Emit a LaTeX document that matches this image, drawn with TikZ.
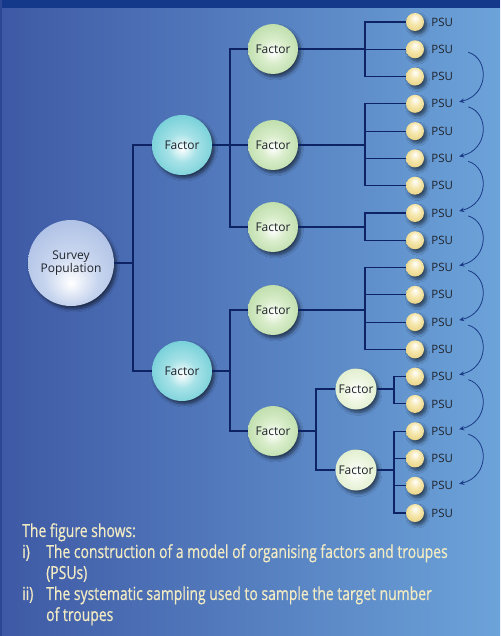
\documentclass[tikz,border=0pt]{standalone}
\usepackage{fontspec}
\setmainfont{Open Sans}
\newfontfamily\capfont[FakeStretch=0.775,FakeBold=0.6]{Open Sans}
\usetikzlibrary{positioning,shadows.blur,arrows.meta}

\definecolor{bgleft}{HTML}{3E59A5}
\definecolor{bgright}{HTML}{6CA3D9}
\definecolor{topband}{HTML}{15398A}
\definecolor{edgeband}{HTML}{2C4794}
\definecolor{linkblue}{HTML}{0D2363}
\definecolor{arrowblue}{HTML}{1B3A86}
\definecolor{nodetext}{HTML}{1F232B}
\definecolor{captext}{HTML}{F2EBC3}
\definecolor{surveyrim}{HTML}{8FA8DA}
\definecolor{surveymid}{HTML}{C6D4EE}
\definecolor{tealrim}{HTML}{2FB6C3}
\definecolor{tealmid}{HTML}{A6E2E7}
\definecolor{greenrim}{HTML}{98C87D}
\definecolor{greenmid}{HTML}{D9EDCB}
\definecolor{palerim}{HTML}{CAE2AC}
\definecolor{palemid}{HTML}{EEF6E2}
\definecolor{psurim}{HTML}{D9BB58}
\definecolor{psumid}{HTML}{F5E6AA}

%% ball shadings (inner circle offset, outer circle at origin)
\pgfdeclareradialshading{surveyshade}{\pgfpoint{0bp}{-12bp}}{%
  color(0bp)=(white); color(16bp)=(surveymid); color(50bp)=(surveyrim)}
\pgfdeclareradialshading{tealshade}{\pgfpoint{0bp}{-3bp}}{%
  color(0bp)=(white); color(12bp)=(tealmid); color(50bp)=(tealrim)}
\pgfdeclareradialshading{greenshade}{\pgfpoint{0bp}{-3bp}}{%
  color(0bp)=(white); color(12bp)=(greenmid); color(50bp)=(greenrim)}
\pgfdeclareradialshading{paleshade}{\pgfpoint{0bp}{-3bp}}{%
  color(0bp)=(white); color(14bp)=(palemid); color(50bp)=(palerim)}
\pgfdeclareradialshading{psushade}{\pgfpoint{0bp}{12bp}}{%
  color(0bp)=(white); color(16bp)=(psumid); color(50bp)=(psurim)}

\begin{document}
\begin{tikzpicture}[x=1pt, y=-1pt,
  link/.style={draw=linkblue, line width=1.1pt},
  ball/.style={circle, inner sep=0pt, align=center, text=nodetext,
    font=\fontsize{12}{13}\selectfont,
    blur shadow={shadow xshift=2.5pt, shadow yshift=-3pt, shadow opacity=55,
      shadow blur radius=3pt, shadow blur steps=6}},
  survey/.style={ball, minimum size=86pt, shading=surveyshade},
  topfactor/.style={ball, minimum size=60pt, shading=tealshade},
  midfactor/.style={ball, minimum size=50pt, shading=greenshade},
  subfactor/.style={ball, minimum size=41pt, shading=paleshade},
  psu/.style={ball, minimum size=18pt, shading=psushade},
  psulabel/.style={text=nodetext, font=\fontsize{11.5}{12}\selectfont, inner sep=1pt},
  hop/.style={draw=arrowblue, line width=0.8pt, -{Stealth[length=5pt,width=4.5pt]}},
  caption/.style={text=captext, font=\capfont\fontsize{18}{21}\selectfont,
    align=left, inner sep=0pt}
]

  %%-- BACKGROUND --%%
  \useasboundingbox (0,0) rectangle (500,636);
  \fill[left color=bgleft, right color=bgright] (0,0) rectangle (500,636);
  \fill[topband] (0,0) rectangle (500,8);
  \fill[edgeband] (0,0) rectangle (2,636);

  %%-- PSU COLUMN (19 troupes, 27.28 apart) --%%
  \foreach \i in {1,...,19} {
    \node[psu] (p\i) at (415, {22+27.28*(\i-1)}) {};
    \node[psulabel, right=6pt of p\i] (t\i) {PSU};
  }

  %%-- FACTOR NODES --%%
  \node[survey]    (sp)  at (71,263)  {Survey\\Population};
  \node[topfactor] (fa)  at (182,145) {Factor};
  \node[topfactor] (fb)  at (182,371) {Factor};
  \node[midfactor] (ga)  at (273,49)  {Factor};
  \node[midfactor] (gb)  at (273,145) {Factor};
  \node[midfactor] (gc)  at (273,227) {Factor};
  \node[midfactor] (gd)  at (273,310) {Factor};
  \node[midfactor] (ge)  at (273,431) {Factor};
  \node[subfactor] (ha)  at (356,389) {Factor};
  \node[subfactor] (hb)  at (356,470) {Factor};

  %%-- BRACKETS: survey -> top factors --%%
  \coordinate (b0) at (133,263);
  \draw[link] (sp.east) -- (b0);
  \foreach \n in {fa,fb} \draw[link] (b0) |- (\n.west);

  %%-- BRACKETS: top factors -> middle factors (x = 230) --%%
  \coordinate (b1) at (230,145);
  \draw[link] (fa.east) -- (b1);
  \foreach \n in {ga,gb,gc} \draw[link] (b1) |- (\n.west);
  \coordinate (b2) at (230,371);
  \draw[link] (fb.east) -- (b2);
  \foreach \n in {gd,ge} \draw[link] (b2) |- (\n.west);

  %%-- BRACKET: last middle factor -> sub factors (x = 316) --%%
  \coordinate (b3) at (316,431);
  \draw[link] (ge.east) -- (b3);
  \foreach \n in {ha,hb} \draw[link] (b3) |- (\n.west);

  %%-- BRACKETS: factors -> PSUs (x = 365 and x = 394) --%%
  \coordinate (ca) at (365,49);
  \draw[link] (ga.east) -- (ca);
  \foreach \i in {1,2,3} \draw[link] (ca) |- (p\i.west);
  \coordinate (cb) at (365,145);
  \draw[link] (gb.east) -- (cb);
  \foreach \i in {4,...,7} \draw[link] (cb) |- (p\i.west);
  \coordinate (cc) at (365,227);
  \draw[link] (gc.east) -- (cc);
  \foreach \i in {8,9} \draw[link] (cc) |- (p\i.west);
  \coordinate (cd) at (365,310);
  \draw[link] (gd.east) -- (cd);
  \foreach \i in {10,...,13} \draw[link] (cd) |- (p\i.west);
  \coordinate (ce) at (394,389);
  \draw[link] (ha.east) -- (ce);
  \foreach \i in {14,15} \draw[link] (ce) |- (p\i.west);
  \coordinate (cf) at (394,470);
  \draw[link] (hb.east) -- (cf);
  \foreach \i in {16,...,19} \draw[link] (cf) |- (p\i.west);

  %%-- SYSTEMATIC SAMPLING: every second PSU --%%
  \foreach \i in {2,4,...,16} {
    \pgfmathtruncatemacro{\j}{\i+2}
    \draw[hop] ([shift={(14,3)}]t\i.east) .. controls +(21,6) and +(30,-7)
      .. ([shift={(5,-2)}]t\j.east);
  }

  %%-- CAPTION --%%
  \node[caption, anchor=north west] (cap) at (22,523) {%
    The figure shows:\\
    \makebox[24pt][l]{i)}The construction of a model of organising factors and troupes\\
    \hspace*{24pt}(PSUs)\\
    \makebox[24pt][l]{ii)}The systematic sampling used to sample the target number\\
    \hspace*{24pt}of troupes};

\end{tikzpicture}
\end{document}
